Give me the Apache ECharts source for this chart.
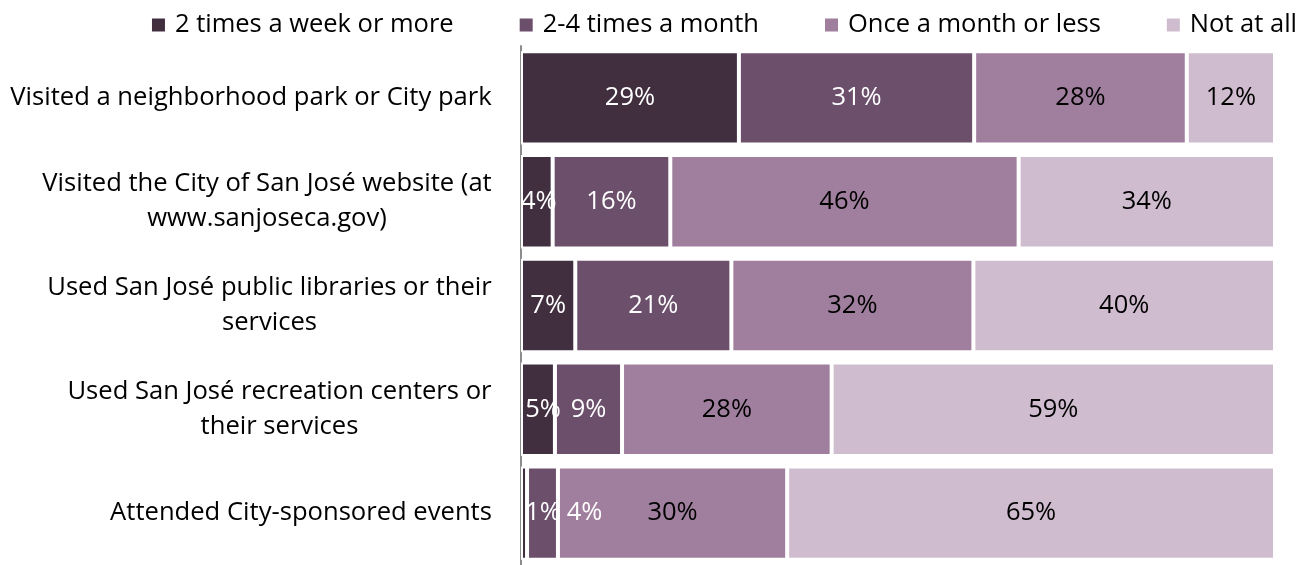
<!DOCTYPE html>
<html>
<head>
<meta charset="utf-8">
<script src="https://cdn.jsdelivr.net/npm/echarts@6/dist/echarts.min.js"></script>
<style>
  html, body { margin: 0; padding: 0; background: #fff; }
  #chart { width: 1310px; height: 565px; }
</style>
</head>
<body>
<div id="chart"></div>
<script>
// categories, top to bottom
var activities = [
  "Visited a neighborhood park or City park",
  "Visited the City of San José website (at\nwww.sanjoseca.gov)",
  "Used San José public libraries or their\nservices",
  "Used San José recreation centers or\ntheir services",
  "Attended City-sponsored events"
];
var frequencies = ["2 times a week or more", "2-4 times a month", "Once a month or less", "Not at all"];

// percent of respondents
var twiceWeekly  = [28.9, 4.2, 7.2, 4.5, 0.8];
var monthly2to4  = [31.2, 15.6, 20.7, 8.9, 4.1];
var monthlyOrLess = [28.2, 46.2, 32.1, 27.8, 30.4];
var notAtAll     = [11.7, 34.0, 40.0, 58.8, 64.7];

var colors = ["#412f40", "#6b4f6b", "#a07f9e", "#d0bccf"];
var labelColors = ["#ffffff", "#ffffff", "#000000", "#000000"];
var FONT = "Open Sans";
var AXIS_FS = 25.6;

// the tiny segments have their labels pushed right
var labelNudge = { 0: { 1: [2, 0], 3: [5, 0], 4: [19, 0] }, 1: { 4: [42, 0] } };

// center every line of a wrapped label inside its own block
var ctx = document.createElement("canvas").getContext("2d");
ctx.font = AXIS_FS + "px " + FONT;
var rich = {};
activities.forEach(function (a, i) {
  var w = 0;
  a.split("\n").forEach(function (l) { w = Math.max(w, ctx.measureText(l).width); });
  rich["r" + i] = { width: Math.ceil(w) + 2, align: "center", fontSize: AXIS_FS, fontFamily: FONT, color: "#000", lineHeight: 35 };
});

var seriesValues = [twiceWeekly, monthly2to4, monthlyOrLess, notAtAll];
var series = seriesValues.map(function (vals, s) {
  return {
    name: frequencies[s],
    type: "bar",
    stack: "total",
    barCategoryGap: "10%",
    itemStyle: { color: colors[s], borderColor: "#fff", borderWidth: 2 },
    label: {
      show: true,
      position: "inside",
      color: labelColors[s],
      fontSize: 25.5,
      fontFamily: FONT,
      formatter: function (p) { return Math.round(p.value) + "%"; }
    },
    data: vals.map(function (v, i) {
      var n = labelNudge[s] && labelNudge[s][i];
      return n ? { value: v, label: { offset: n } } : v;
    })
  };
});

var chart = echarts.init(document.getElementById("chart"));
chart.setOption({
  animation: false,
  color: colors,
  legend: {
    data: frequencies,
    top: 7,
    right: 8,
    icon: "rect",
    itemWidth: 13,
    itemHeight: 13,
    itemGap: 66,
    itemStyle: { borderWidth: 0 },
    textStyle: { fontSize: 25.5, fontFamily: FONT, color: "#000", padding: [0, 0, 0, 5] }
  },
  grid: { left: 521, right: 35, top: 46, height: 525 },
  xAxis: { type: "value", min: 0, max: 100, show: false },
  yAxis: {
    type: "category",
    inverse: true,
    data: activities,
    axisLine: { show: true, lineStyle: { color: "#8c8c8c", width: 2 } },
    axisTick: { show: false },
    axisLabel: {
      margin: 28,
      formatter: function (v, i) {
        return v.split("\n").map(function (l) { return "{r" + i + "|" + l + "}"; }).join("\n");
      },
      rich: rich
    }
  },
  series: series
});
</script>
</body>
</html>
